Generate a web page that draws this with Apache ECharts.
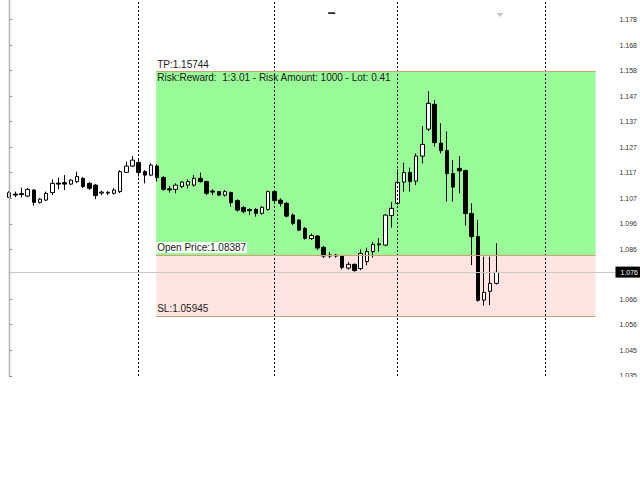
<!DOCTYPE html>
<html><head><meta charset="utf-8">
<script src="https://cdn.jsdelivr.net/npm/echarts@6/dist/echarts.min.js"></script>
<style>html,body{margin:0;padding:0;background:#fff;}#c{width:640px;height:480px;}</style>
</head><body><div id="c"></div>
<script>
// ---- data ----
const opens  = [1.1069,1.1082,1.1084,1.1074,1.1098,1.1049,1.1058,1.1088,1.1126,1.1128,
                1.1122,1.1132,1.1145,1.1125,1.1118,1.1086,1.1086,1.1085,1.1092,1.1169,
                1.1194,1.1208,1.1172,1.1158,1.1194,1.1148,1.1103,1.1101,1.1112,1.1118,
                1.1118,1.1145,1.1132,1.1094,1.1092,1.1078,1.1088,1.1056,1.1028,1.1020,
                1.1021,1.1005,1.1021,1.1092,1.1058,1.1045,1.0998,1.0978,1.0945,1.0904,
                1.0914,1.0869,1.0838,1.0838,1.0834,1.0786,1.0801,1.0784,1.0812,1.0852,
                1.0879,1.0878,1.0996,1.1045,1.1130,1.1168,1.1134,1.1234,1.1342,1.1441,
                1.1286,1.1256,1.1164,1.1185,1.1176,1.1004,1.0912,1.0658,1.0693,1.0725];
const closes = [1.1088,1.1078,1.1080,1.1101,1.1049,1.1062,1.1085,1.1125,1.1122,1.1122,
                1.1138,1.1152,1.1112,1.1105,1.1076,1.1090,1.1089,1.1098,1.1172,1.1194,
                1.1218,1.1168,1.1158,1.1198,1.1148,1.1101,1.1099,1.1118,1.1130,1.1132,
                1.1145,1.1132,1.1085,1.1090,1.1078,1.1092,1.1048,1.1018,1.1012,1.1016,
                1.1005,1.1029,1.1092,1.1056,1.1045,1.0994,1.0965,1.0938,1.0905,1.0916,
                1.0866,1.0834,1.0834,1.0834,1.0789,1.0801,1.0776,1.0845,1.0852,1.0881,
                1.0883,1.0998,1.1025,1.1129,1.1168,1.1132,1.1234,1.1281,1.1445,1.1288,
                1.1256,1.1164,1.1110,1.1175,1.1004,1.0912,1.0657,1.0689,1.0725,1.0769];
const lows   = [1.1066,1.1070,1.1068,1.1070,1.1036,1.1044,1.1054,1.1078,1.1101,1.1098,
                1.1118,1.1126,1.1106,1.1098,1.1062,1.1078,1.1078,1.1080,1.1086,1.1166,
                1.1190,1.1152,1.1125,1.1154,1.1132,1.1096,1.1088,1.1085,1.1106,1.1105,
                1.1112,1.1128,1.1078,1.1078,1.1074,1.1072,1.1032,1.1012,1.1005,1.0998,
                1.0992,1.1000,1.1016,1.1050,1.1032,1.0989,1.0958,1.0934,1.0900,1.0898,
                1.0858,1.0826,1.0826,1.0828,1.0781,1.0780,1.0772,1.0778,1.0798,1.0828,
                1.0852,1.0874,1.0948,1.1040,1.1092,1.1092,1.1118,1.1205,1.1334,1.1272,
                1.1245,1.1052,1.1052,1.1085,1.0956,1.0798,1.0652,1.0636,1.0638,1.0720];
const highs  = [1.1094,1.1092,1.1108,1.1106,1.1102,1.1066,1.1092,1.1141,1.1148,1.1158,
                1.1142,1.1172,1.1150,1.1130,1.1122,1.1096,1.1094,1.1106,1.1178,1.1212,
                1.1234,1.1218,1.1178,1.1205,1.1202,1.1154,1.1114,1.1125,1.1134,1.1141,
                1.1158,1.1168,1.1136,1.1101,1.1094,1.1098,1.1092,1.1061,1.1034,1.1025,
                1.1025,1.1034,1.1096,1.1098,1.1065,1.1050,1.1004,1.0982,1.0950,1.0924,
                1.0918,1.0874,1.0850,1.0843,1.0838,1.0810,1.0804,1.0861,1.0868,1.0892,
                1.0906,1.1002,1.1050,1.1182,1.1208,1.1188,1.1245,1.1354,1.1493,1.1458,
                1.1365,1.1332,1.1218,1.1234,1.1180,1.1045,1.0978,1.0832,1.0832,1.0885];

const tickValues = [1.1780,1.1678,1.1576,1.1474,1.1372,1.1270,1.1168,1.1066,1.0963,1.0861,1.0660,1.0560,1.0456,1.0355];
const tickLabels = ['1.178','1.168','1.158','1.147','1.137','1.127','1.117','1.107','1.096','1.086','1.066','1.056','1.045','1.035'];

const separators = [21, 43, 63, 87];         // period separator bars (bar index)
const tradeStart = 23.85, tradeEnd = 95.1;  // trade box span (bar index)
const tpPrice = 1.15744, openPrice = 1.08387, slPrice = 1.05945;
const lastPrice = 1.0770, lastLabel = '1.076';
const tpText = 'TP:1.15744';
const openText = 'Open Price:1.08387';
const slText = 'SL:1.05945';
const rrText = 'Risk:Reward:  1:3.01 - Risk Amount: 1000 - Lot: 0.41';
const yMin = 1.03544, yMax = 1.18584;
const xMin = -0.016, xMax = 98.32;

// ---- build chart ----
const candleData = opens.map((o, i) => [i, o, closes[i], lows[i], highs[i]]);
const FONT = 'Liberation Sans, Arial, sans-serif';
const boxLine = '#CDA277';
const textStyle = {fontSize: 10, fontFamily: FONT, color: '#1a1a1a'};

const chart = echarts.init(document.getElementById('c'), null, {renderer: 'svg'});
chart.setOption({
  animation: false,
  backgroundColor: '#ffffff',
  grid: {left: 9, right: 22, top: 0, height: 376},
  xAxis: {type: 'value', min: xMin, max: xMax, show: false},
  yAxis: {
    type: 'value', position: 'right', min: yMin, max: yMax, scale: true,
    splitLine: {show: false},
    axisLine: {show: true, lineStyle: {color: '#8C8C8C', width: 1}},
    axisTick: {show: true, length: 3, customValues: tickValues, lineStyle: {color: '#8C8C8C'}},
    axisLabel: {
      show: true, customValues: tickValues, margin: 4, fontSize: 7, color: '#333',
      fontFamily: FONT,
      formatter: function (v) {
        for (let i = 0; i < tickValues.length; i++) if (Math.abs(tickValues[i] - v) < 1e-7) return tickLabels[i];
        return '';
      }
    }
  },
  series: [{
    type: 'candlestick',
    data: candleData,
    encode: {x: 0, y: [1, 2, 3, 4]},
    barWidth: 4,
    clip: true,
    itemStyle: {color: '#ffffff', color0: '#000000', borderColor: '#000000', borderColor0: '#000000', borderWidth: 1},
    markArea: {
      silent: true,
      label: Object.assign({show: true, position: 'insideTopLeft', distance: 2, offset: [-1, -1]}, textStyle),
      data: [
        [{coord: [tradeStart, tpPrice], itemStyle: {color: '#98FB98'}, label: {show: true, formatter: rrText}},
         {coord: [tradeEnd, openPrice]}],
        [{coord: [tradeStart, openPrice], itemStyle: {color: '#FFE4E1'}, label: {show: false}},
         {coord: [tradeEnd, slPrice]}]
      ]
    },
    markLine: {
      silent: true,
      symbol: ['none', 'none'],
      label: {show: false},
      data: [
        ...separators.map(s => [{coord: [s, yMin], lineStyle: {color: '#000', type: [2, 2], width: 1}, label: {show: false}},
                                {coord: [s, yMax]}]),
        [{coord: [tradeStart, tpPrice], lineStyle: {color: boxLine, type: 'solid', width: 1},
          label: Object.assign({show: true, position: 'insideStartTop', distance: [1, 2], formatter: tpText}, textStyle)},
         {coord: [tradeEnd, tpPrice]}],
        [{coord: [tradeStart, openPrice], lineStyle: {color: boxLine, type: 'solid', width: 1},
          label: Object.assign({show: true, position: 'insideStartTop', distance: [0, 2], formatter: openText,
                  backgroundColor: '#F6FFF6', padding: [1, 1, 0, 1]}, textStyle)},
         {coord: [tradeEnd, openPrice]}],
        [{coord: [tradeStart, slPrice], lineStyle: {color: boxLine, type: 'solid', width: 1},
          label: Object.assign({show: true, position: 'insideStartTop', distance: [1, 2], formatter: slText}, textStyle)},
         {coord: [tradeEnd, slPrice]}],
        [{coord: [xMin, lastPrice], lineStyle: {color: '#C8C8C8', type: 'solid', width: 1},
          label: {show: true, position: 'end', distance: 0, formatter: lastLabel, fontSize: 7, fontFamily: FONT,
                  color: '#ffffff', backgroundColor: '#000000', padding: [2, 3, 2, 5]}},
         {coord: [xMax, lastPrice]}]
      ]
    },
    markPoint: {
      silent: true,
      label: {show: false},
      data: [
        {coord: [52.3, 1.1806], symbol: 'rect', symbolSize: [7, 1.5], itemStyle: {color: '#000'}},
        {coord: [79.6, 1.1798], symbol: 'triangle', symbolRotate: 180, symbolSize: [7, 4], itemStyle: {color: '#C4C4C4'}}
      ]
    }
  }],
  graphic: [
    {type: 'rect', shape: {x: 0, y: 377, width: 640, height: 103}, style: {fill: '#ffffff'}, z: 100},
    {type: 'line', shape: {x1: 9.5, y1: 0, x2: 9.5, y2: 376}, style: {stroke: '#B0B0B0', lineWidth: 1.5}, z: 100}
  ]
});
</script></body></html>
